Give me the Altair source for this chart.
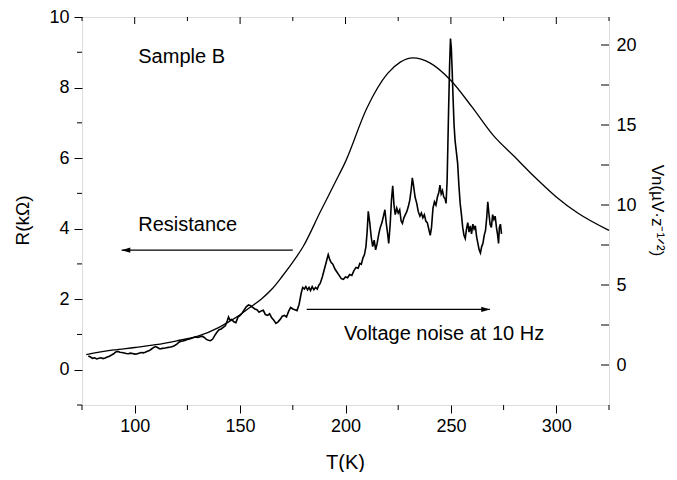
import altair as alt
import pandas as pd

# Resistance curve (left axis, kOhm)
R_T = [77, 90, 100, 110, 120, 130, 140, 145, 150, 155, 160, 165, 170, 175, 180, 188, 195, 200, 210, 220, 226, 232, 240, 250, 260, 270, 280, 290, 300, 310, 325]
R_K = [0.43, 0.56, 0.63, 0.71, 0.82, 0.95, 1.2, 1.37, 1.56, 1.78, 2.0, 2.28, 2.65, 3.05, 3.5, 4.47, 5.3, 5.9, 7.4, 8.4, 8.72, 8.84, 8.7, 8.2, 7.45, 6.65, 6.05, 5.45, 4.9, 4.45, 3.95]

# Voltage noise curve (right axis)
N_T = [78, 79, 80, 81, 82, 83, 84, 85, 86, 87, 88, 89, 90, 91, 92, 93, 94, 95, 96, 97, 98, 99, 100,
       101, 102, 103, 104, 105, 106, 107, 108, 109, 110, 111, 112, 113, 114, 115, 116, 117, 118, 119, 120,
       121, 122, 123, 124, 125, 126, 127, 128, 129, 130, 131, 132, 133, 134, 135, 136, 137, 138, 139, 140,
       141, 142, 143, 144, 144.5, 145.2, 146, 147, 148, 149, 150, 151, 152, 153, 154, 155, 156, 157, 158,
       159, 160, 161, 162, 163, 164, 165, 166, 167, 168, 169, 170, 171, 172, 173, 174, 175, 176, 177, 178,
       179, 179.7, 180.5, 181.2, 182, 182.7, 183.4, 184.2, 185, 185.8, 186.6, 187.4, 188, 189, 190, 191,
       191.8, 192.5, 193.2, 194, 195, 196, 197, 198, 199, 200, 201, 202, 203, 204, 205, 206, 206.8, 207.5,
       208.3, 209, 209.7, 210.3, 210.8, 211.5, 212.2, 212.9, 213.6, 214.3, 215, 215.8, 216.5, 217.3, 218,
       218.7, 219.3, 220, 220.5, 221.2, 221.8, 222.4, 223, 223.6, 224.3, 225, 225.7, 226.4, 227, 227.7,
       228.4, 229.1, 229.8, 230.5, 231.2, 231.7, 232.3, 233, 233.8, 234.5, 235.3, 236, 236.7, 237.4, 238.1,
       238.8, 239.5, 240.2, 240.8, 241.5, 242.2, 242.9, 243.6, 244.3, 244.8, 245.4, 246, 246.6, 247.2,
       247.7, 248.2, 248.6, 249.0, 249.4, 249.8, 250.2, 250.6, 251.0, 251.5, 252, 252.6, 253.2, 253.8,
       254.4, 255, 255.6, 256.2, 256.8, 257.4, 258, 258.6, 259.2, 259.8, 260.4, 261, 261.6, 262.2, 262.8,
       263.4, 264, 264.6, 265.2, 265.8, 266.4, 267, 267.5, 268, 268.6, 269.2, 269.8, 270.4, 271, 271.6,
       272.2, 272.6, 273, 273.5, 274]
N_V = [0.56, 0.5, 0.42, 0.45, 0.38, 0.42, 0.45, 0.40, 0.44, 0.5, 0.55, 0.62, 0.7, 0.82, 0.85, 0.8, 0.78, 0.75, 0.72, 0.7, 0.74, 0.72, 0.68,
       0.69, 0.74, 0.78, 0.76, 0.8, 0.86, 0.9, 1.0, 1.1, 1.15, 1.08, 1.0, 1.04, 1.05, 1.08, 1.1, 1.12, 1.15, 1.22, 1.3,
       1.42, 1.48, 1.5, 1.55, 1.6, 1.62, 1.67, 1.72, 1.75, 1.72, 1.76, 1.8, 1.72, 1.6, 1.55, 1.52, 1.62, 1.85, 2.05, 2.2,
       2.25, 2.35, 2.45, 2.8, 3.0, 2.8, 2.85, 2.7, 2.65, 3.0, 3.1, 3.25, 3.45, 3.65, 3.75, 3.7, 3.6, 3.5, 3.45,
       3.3, 3.38, 3.42, 3.15, 3.1, 3.2, 2.95, 2.8, 2.6, 2.7, 2.85, 3.05, 3.1, 3.0, 3.35, 3.6, 3.5, 3.45, 3.4, 3.8,
       4.5, 4.85, 4.75, 4.9, 4.7, 4.85, 4.65, 4.9, 4.7, 4.85, 4.75, 5.0, 5.1, 5.5, 6.0, 6.5,
       6.9, 6.6, 6.4, 6.3, 6.0, 5.8, 5.6, 5.4, 5.35, 5.5, 5.45, 5.65, 5.6, 5.9, 6.1, 6.05, 6.35, 6.3,
       6.7, 6.9, 7.4, 8.4, 9.6, 8.9, 8.0, 7.4, 7.8, 7.2, 7.6, 8.2, 8.6, 8.9, 9.3,
       9.7, 8.9, 8.2, 7.6, 8.8, 10.3, 11.2, 10.0, 9.4, 9.8, 9.5, 9.7, 9.0, 8.85, 9.2,
       9.4, 9.6, 9.9, 10.3, 11.0, 11.7, 11.2, 10.5, 10.1, 9.6, 9.3, 9.5, 9.2, 9.4, 9.0,
       8.9, 8.5, 8.1, 8.6, 9.8, 10.2, 10.0, 10.5, 10.8, 11.25, 10.7, 10.9, 10.5, 10.4,
       10.1, 11.5, 14.0, 16.5, 18.8, 20.4, 19.8, 18.4, 16.8, 15.0, 14.0, 13.3, 12.6, 11.2,
       10.1, 9.4, 8.6, 8.1, 7.9, 8.5, 8.9, 8.3, 8.7, 8.2, 8.8, 8.5, 8.7, 8.0, 7.6,
       7.2, 7.0, 7.4, 7.6, 8.1, 8.4, 9.2, 10.2, 9.5, 8.8, 8.6, 9.4, 9.1, 9.3, 8.6,
       8.1, 7.6, 8.6, 8.8, 8.2]

# Ticks
X_MAJOR = [100, 150, 200, 250, 300]
X_MINOR = [75, 125, 175, 225, 275, 325]
R_MAJOR = [0, 2, 4, 6, 8, 10]
R_MINOR = [-1, 1, 3, 5, 7, 9]
V_MAJOR = [0, 5, 10, 15, 20]
V_MINOR = [2.5, 7.5, 12.5, 17.5]

# Annotations
TEXT_T = [101.7, 101.7, 199.3]
TEXT_R = [8.87, 4.10, 1.01]
TEXT_S = ["Sample B", "Resistance", "Voltage noise at 10 Hz"]
ARROW_T1 = [93.8, 181.6]
ARROW_T2 = [175.0, 268.5]
ARROW_R = [3.39, 1.71]

W, H = 527, 388
FONT = "Liberation Sans"

xs = alt.Scale(domain=[75, 325], nice=False, zero=False)
rs = alt.Scale(domain=[-1, 10], nice=False, zero=False)
vs = alt.Scale(domain=[-2.5, 21.75], nice=False, zero=False)

r_df = pd.DataFrame({"T": R_T, "R": R_K})
n_df = pd.DataFrame({"T": N_T, "V": N_V})

r_line = alt.Chart(r_df).mark_line(color="black", strokeWidth=1.3, interpolate="monotone").encode(
    x=alt.X("T:Q", scale=xs, axis=alt.Axis(
        values=X_MAJOR, title="T(K)", domain=False, grid=False, tickSize=8, tickColor="black",
        labelFont=FONT, labelFontSize=18, labelColor="black", labelPadding=4, labelFlush=False,
        titleFont=FONT, titleFontSize=20, titleFontWeight="normal", titleColor="black",
        titleX=263, titleY=57, titleBaseline="middle")),
    y=alt.Y("R:Q", scale=rs, axis=alt.Axis(
        values=R_MAJOR, title="R(kΩ)", domain=False, grid=False, tickSize=8, tickColor="black",
        labelFont=FONT, labelFontSize=18, labelColor="black", labelPadding=5, labelFlush=False,
        titleFont=FONT, titleFontSize=19, titleFontWeight="normal", titleColor="black",
        titleX=-60, titleY=203, titleBaseline="middle")),
)

xmin_df = pd.DataFrame({"T": X_MINOR})
xmaj_df = pd.DataFrame({"T": X_MAJOR})
rmin_df = pd.DataFrame({"R": R_MINOR})

x_minor_bottom = alt.Chart(xmin_df).mark_rule(color="black", strokeWidth=1).encode(
    x=alt.X("T:Q", scale=xs), y=alt.value(H), y2=alt.value(H + 5))
x_minor_top = alt.Chart(xmin_df).mark_rule(color="black", strokeWidth=1).encode(
    x=alt.X("T:Q", scale=xs), y=alt.value(0), y2=alt.value(4))
x_major_top = alt.Chart(xmaj_df).mark_rule(color="black", strokeWidth=1).encode(
    x=alt.X("T:Q", scale=xs), y=alt.value(0), y2=alt.value(7))
r_minor = alt.Chart(rmin_df).mark_rule(color="black", strokeWidth=1).encode(
    y=alt.Y("R:Q", scale=rs), x=alt.value(0), x2=alt.value(-5))

txt_df = pd.DataFrame({"T": TEXT_T, "R": TEXT_R, "s": TEXT_S})
texts = alt.Chart(txt_df).mark_text(align="left", baseline="middle", font=FONT, fontSize=20, color="black").encode(
    x=alt.X("T:Q", scale=xs), y=alt.Y("R:Q", scale=rs), text="s:N")

arr_df = pd.DataFrame({"T1": ARROW_T1, "T2": ARROW_T2, "R": ARROW_R})
arrows = alt.Chart(arr_df).mark_rule(color="black", strokeWidth=1.2).encode(
    x=alt.X("T1:Q", scale=xs), x2="T2:Q", y=alt.Y("R:Q", scale=rs))
head_l = alt.Chart(arr_df.iloc[[0]]).mark_point(
    shape="M0,0 L1,-0.3 L1,0.3 Z", filled=True, color="black", size=300, opacity=1).encode(
    x=alt.X("T1:Q", scale=xs), y=alt.Y("R:Q", scale=rs))
head_r = alt.Chart(arr_df.iloc[[1]]).mark_point(
    shape="M0,0 L-1,-0.3 L-1,0.3 Z", filled=True, color="black", size=300, opacity=1).encode(
    x=alt.X("T2:Q", scale=xs), y=alt.Y("R:Q", scale=rs))

r_group = alt.layer(r_line, x_minor_bottom, x_minor_top, x_major_top, r_minor, texts, arrows, head_l, head_r)

n_line = alt.Chart(n_df).mark_line(color="black", strokeWidth=1.6, interpolate="linear").encode(
    x=alt.X("T:Q", scale=xs),
    y=alt.Y("V:Q", scale=vs, axis=alt.Axis(
        orient="right", values=V_MAJOR, title="Vn(µV·z⁻¹ᐟ²)", domain=False, grid=False, ticks=False, tickSize=0,
        labelFont=FONT, labelFontSize=18, labelColor="black", labelPadding=7, labelFlush=False,
        titleFont=FONT, titleFontSize=17, titleFontWeight="normal", titleColor="black",
        titleAngle=90, titleX=47, titleY=193, titleBaseline="middle")),
)
vt_df = pd.DataFrame({"V": V_MAJOR + V_MINOR})
v_ticks = alt.Chart(vt_df).mark_rule(color="black", strokeWidth=1).encode(
    y=alt.Y("V:Q", scale=vs), x=alt.value(W), x2=alt.value(W - 8))

v_group = alt.layer(n_line, v_ticks)

chart = alt.layer(r_group, v_group).resolve_scale(y="independent").properties(
    width=W, height=H,
    autosize=alt.AutoSizeParams(type="none"),
    padding={"left": 74, "top": 9, "right": 60, "bottom": 67},
).configure_view(stroke="black", strokeWidth=1.2).configure(background="white")

chart.save("out.html", embed_options={"renderer": "svg", "actions": False})
